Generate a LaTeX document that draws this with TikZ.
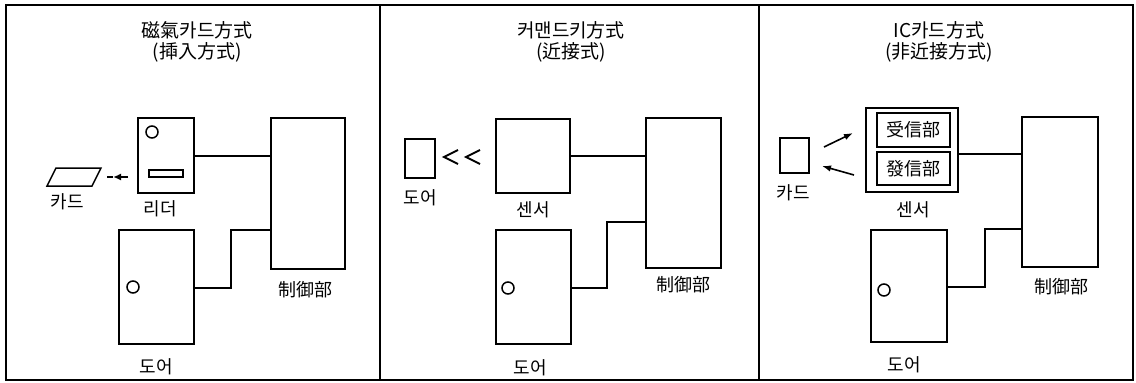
\documentclass[tikz,border=0pt]{standalone}
\usepackage{fontspec}
\setmainfont{Noto Sans CJK KR}
\usetikzlibrary{arrows.meta}
\begin{document}
\begin{tikzpicture}[x=1pt,y=-1pt,
  box/.style={draw,line width=2pt},
  wire/.style={draw,line width=1.6pt},
  lbl/.style={font=\fontsize{18}{20}\selectfont,inner sep=0pt},
  ttl/.style={font=\fontsize{19}{21}\selectfont,inner sep=0pt,align=center},
  knob/.style={draw,line width=1.5pt,circle,minimum size=12pt,inner sep=0pt},
  frame/.style={draw,line width=1.5pt}]
\useasboundingbox (0,0) rectangle (1136,383);
% frame
\draw[frame] (6,5) rectangle (1133,380);
\draw[frame] (380,5) -- (380,380);
\draw[frame] (759,5) -- (759,380);

% ===== Panel 1 =====
\node[ttl] (t1) at (197,42) {磁氣카드方式\\(揷入方式)};
\node[box,minimum width=56pt,minimum height=75pt,inner sep=0pt] (rd1) at (166,155.5) {};
\node[knob] (rk1) at (152,132) {};
\node[draw,line width=1.5pt,minimum width=34pt,minimum height=7pt,inner sep=0pt] (sl1) at (166,173.5) {};
\coordinate (c1a) at (47,186);
\coordinate (c1b) at (56,168);
\coordinate (c1c) at (101,168);
\coordinate (c1d) at (92,186);
\draw[line width=1.5pt] (c1a) -- (c1b) -- (c1c) -- (c1d) -- cycle;
\coordinate (ar1s) at (107,177);
\coordinate (ar1m) at (113,177);
\coordinate (ar1e) at (128,177);
\draw[line width=1.2pt] (ar1s) -- (ar1m);
\draw[line width=1.8pt,-{Latex[length=8pt,width=7pt]}] (ar1e) -- (ar1m);
\node[lbl] (k1) at (67,202) {카드};
\node[lbl] (r1) at (160,209) {리더};
\node[box,minimum width=74pt,minimum height=151pt,inner sep=0pt] (cu1) at (308,193.5) {};
\node[lbl] (cl1) at (305,290) {制御部};
\node[box,minimum width=75pt,minimum height=114pt,inner sep=0pt] (dr1) at (156.5,287) {};
\node[knob] (dk1) at (133,287) {};
\node[lbl] (d1) at (156,367) {도어};
\draw[wire] (rd1.east |- 0,156) -- (cu1.west |- 0,156);
\draw[wire] (dr1.east |- 0,288) -- (231,288) -- (231,230) -- (cu1.west |- 0,230);

% ===== Panel 2 =====
\node[ttl] (t2) at (571,42) {커맨드키方式\\(近接式)};
\node[box,minimum width=30pt,minimum height=39pt,inner sep=0pt] (kb2) at (420,158.5) {};
\node[lbl] (kl2) at (420,198) {도어};
\coordinate (v1a) at (458,150);
\coordinate (v1b) at (444,157);
\coordinate (v1c) at (458,164);
\coordinate (v2a) at (480,150);
\coordinate (v2b) at (466,157);
\coordinate (v2c) at (480,164);
\draw[line width=1.8pt] (v1a) -- (v1b) -- (v1c);
\draw[line width=1.8pt] (v2a) -- (v2b) -- (v2c);
\node[box,minimum width=74pt,minimum height=74pt,inner sep=0pt] (sn2) at (533,156) {};
\node[lbl] (s2) at (533,210) {센서};
\node[box,minimum width=75pt,minimum height=150pt,inner sep=0pt] (cu2) at (683.5,193) {};
\node[lbl] (cl2) at (683,285) {制御部};
\node[box,minimum width=75pt,minimum height=114pt,inner sep=0pt] (dr2) at (533.5,287) {};
\node[knob] (dk2) at (508,288) {};
\node[lbl] (d2) at (530,368) {도어};
\draw[wire] (sn2.east |- 0,156) -- (cu2.west |- 0,156);
\draw[wire] (dr2.east |- 0,288) -- (607,288) -- (607,222) -- (cu2.west |- 0,222);

% ===== Panel 3 =====
\node[ttl] (t3) at (939,42) {IC카드方式\\(非近接方式)};
\node[box,minimum width=29pt,minimum height=35pt,inner sep=0pt] (kb3) at (794.5,155.5) {};
\node[lbl] (kl3) at (793,193) {카드};
\node[box,minimum width=92pt,minimum height=84pt,inner sep=0pt] (sn3) at (912,150) {};
\node[draw,line width=1.5pt,minimum width=73pt,minimum height=34pt,inner sep=0pt,lbl] (rx3) at (913.5,130) {受信部};
\node[draw,line width=1.5pt,minimum width=73pt,minimum height=33pt,inner sep=0pt,lbl] (tx3) at (913.5,168.5) {發信部};
\node[lbl] (s3) at (913,210) {센서};
\coordinate (a3s) at (824,147);
\coordinate (a3e) at (853,133);
\coordinate (b3s) at (854,175);
\coordinate (b3e) at (822,166);
\draw[line width=1.6pt,-{Latex[length=9pt,width=6.5pt]}] (a3s) -- (a3e);
\draw[line width=1.6pt,-{Latex[length=9pt,width=6.5pt]}] (b3s) -- (b3e);
\node[box,minimum width=76pt,minimum height=150pt,inner sep=0pt] (cu3) at (1060,192) {};
\node[lbl] (cl3) at (1061,287) {制御部};
\node[box,minimum width=76pt,minimum height=112pt,inner sep=0pt] (dr3) at (909,286) {};
\node[knob] (dk3) at (884,290) {};
\node[lbl] (d3) at (904,365) {도어};
\draw[wire] (sn3.east |- 0,154) -- (cu3.west |- 0,154);
\draw[wire] (dr3.east |- 0,287) -- (985,287) -- (985,229) -- (cu3.west |- 0,229);
\end{tikzpicture}
\end{document}
